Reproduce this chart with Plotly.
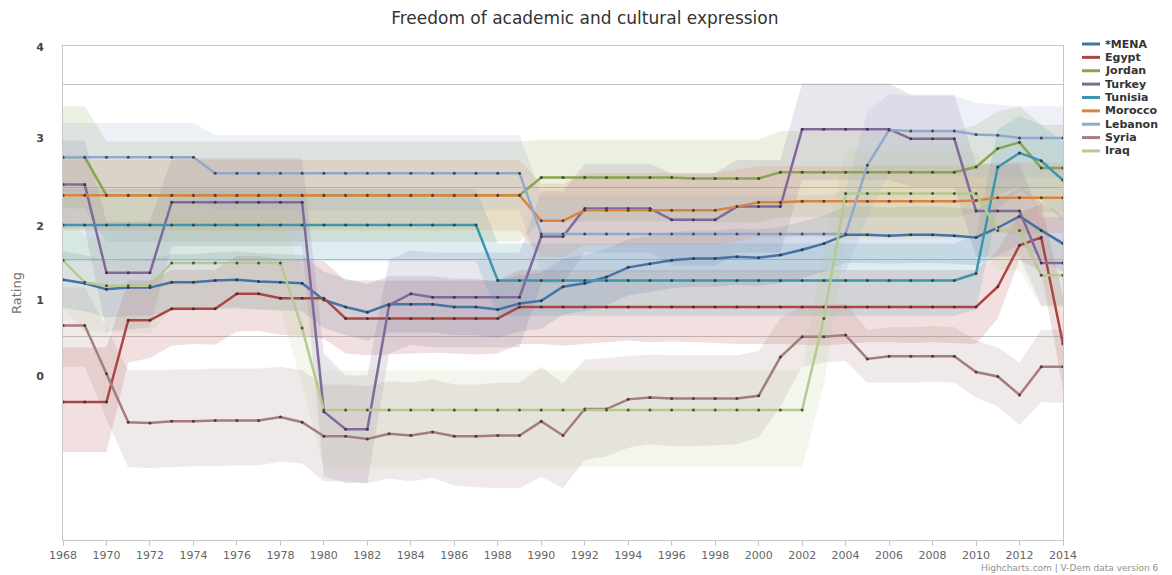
import plotly.graph_objects as go

# ---------------- data ----------------
years = list(range(1968, 2015))
series_names = ["*MENA", "Egypt", "Jordan", "Turkey", "Tunisia", "Morocco", "Lebanon", "Syria", "Iraq"]
series_colors = ["#4572A7", "#AA4643", "#89A54E", "#80699B", "#3D96AE", "#DB843D", "#92A8CD", "#A47D7C", "#B5CA92"]

mena = [1.39, 1.35, 1.28, 1.30, 1.30, 1.36, 1.36, 1.38, 1.39, 1.37, 1.36, 1.35,
        1.16, 1.08, 1.02, 1.11, 1.11, 1.11, 1.08, 1.08, 1.05, 1.12,
        1.15, 1.31, 1.35, 1.42, 1.53, 1.57, 1.61, 1.63, 1.63, 1.65,
        1.64, 1.67, 1.73, 1.80, 1.90, 1.90, 1.89, 1.90, 1.90, 1.89,
        1.87, 1.98, 2.11, 1.95, 1.80]
mena_lo = [1.07, 1.03, 0.96, 0.98, 0.98, 1.04, 1.04, 1.06, 1.07, 1.05, 1.04, 1.03,
           0.84, 0.76, 0.70, 0.79, 0.79, 0.79, 0.76, 0.76, 0.73, 0.80,
           0.83, 0.99, 1.03, 1.10, 1.21, 1.25, 1.29, 1.31, 1.31, 1.33,
           1.32, 1.35, 1.41, 1.48, 1.58, 1.58, 1.57, 1.58, 1.58, 1.57,
           1.55, 1.66, 1.79, 1.63, 1.48]
mena_hi = [1.71, 1.67, 1.60, 1.62, 1.62, 1.68, 1.68, 1.70, 1.71, 1.69, 1.68, 1.67,
           1.48, 1.40, 1.34, 1.43, 1.43, 1.43, 1.40, 1.40, 1.37, 1.44,
           1.47, 1.63, 1.67, 1.74, 1.85, 1.89, 1.93, 1.95, 1.95, 1.97,
           1.96, 1.99, 2.05, 2.12, 2.22, 2.22, 2.21, 2.22, 2.22, 2.21,
           2.19, 2.30, 2.43, 2.27, 2.12]

egypt = [0.00, 0.00, 0.00, 0.93, 0.93, 1.06, 1.06, 1.06, 1.23, 1.23, 1.18, 1.18,
         1.18, 0.95, 0.95, 0.95, 0.95, 0.95, 0.95, 0.95, 0.95, 1.08,
         1.08, 1.08, 1.08, 1.08, 1.08, 1.08, 1.08, 1.08, 1.08, 1.08,
         1.08, 1.08, 1.08, 1.08, 1.08, 1.08, 1.08, 1.08, 1.08, 1.08,
         1.08, 1.31, 1.78, 1.87, 0.66]
egypt_lo = [-0.57, -0.57, -0.57, 0.45, 0.50, 0.64, 0.66, 0.65, 0.80, 0.81, 0.76, 0.75,
            0.72, 0.55, 0.53, 0.54, 0.55, 0.56, 0.55, 0.54, 0.55, 0.66,
            0.66, 0.64, 0.66, 0.68, 0.70, 0.68, 0.69, 0.68, 0.67, 0.66,
            0.66, 0.66, 0.65, 0.64, 0.66, 0.68, 0.68, 0.67, 0.68, 0.67,
            0.66, 0.95, 1.62, 1.48, 0.15]
egypt_hi = [0.62, 0.62, 0.62, 1.38, 1.38, 1.50, 1.50, 1.50, 1.66, 1.66, 1.62, 1.62,
            1.60, 1.38, 1.38, 1.38, 1.38, 1.38, 1.38, 1.38, 1.38, 1.50,
            1.50, 1.50, 1.50, 1.50, 1.50, 1.50, 1.50, 1.50, 1.50, 1.50,
            1.50, 1.50, 1.50, 1.50, 1.50, 1.50, 1.50, 1.50, 1.50, 1.50,
            1.50, 1.72, 2.15, 2.25, 1.20]

jordan = [2.78, 2.78, 2.35, 2.35, 2.35, 2.35, 2.35, 2.35, 2.35, 2.35, 2.35, 2.35,
          2.35, 2.35, 2.35, 2.35, 2.35, 2.35, 2.35, 2.35, 2.35, 2.35,
          2.55, 2.55, 2.55, 2.55, 2.55, 2.55, 2.55, 2.54, 2.54, 2.54,
          2.54, 2.61, 2.61, 2.61, 2.61, 2.61, 2.61, 2.61, 2.61, 2.61,
          2.67, 2.88, 2.95, 2.66, 2.66]
jordan_lo = [2.20, 2.20, 1.82, 1.82, 1.82, 1.82, 1.82, 1.82, 1.82, 1.82, 1.82, 1.82,
             1.82, 1.82, 1.82, 1.82, 1.82, 1.82, 1.82, 1.82, 1.82, 1.82,
             2.05, 2.05, 2.05, 2.05, 2.05, 2.05, 2.05, 2.04, 2.04, 2.04,
             2.04, 2.10, 2.10, 2.10, 2.10, 2.10, 2.10, 2.10, 2.10, 2.10,
             2.15, 2.35, 2.45, 2.15, 2.15]
jordan_hi = [3.36, 3.36, 2.96, 2.96, 2.96, 2.96, 2.96, 2.96, 2.96, 2.96, 2.96, 2.96,
             2.96, 2.96, 2.96, 2.96, 2.96, 2.96, 2.96, 2.96, 2.96, 2.96,
             2.98, 2.98, 2.98, 2.98, 2.98, 2.98, 2.98, 2.98, 2.98, 2.98,
             2.98, 3.08, 3.08, 3.08, 3.08, 3.08, 3.08, 3.08, 3.08, 3.08,
             3.15, 3.30, 3.36, 3.15, 3.15]

turkey = [2.47, 2.47, 1.47, 1.47, 1.47, 2.27, 2.27, 2.27, 2.27, 2.27, 2.27, 2.27,
          -0.11, -0.31, -0.31, 1.10, 1.23, 1.19, 1.19, 1.19, 1.19, 1.19,
          1.88, 1.88, 2.20, 2.20, 2.20, 2.20, 2.07, 2.07, 2.07, 2.22,
          2.22, 2.22, 3.10, 3.10, 3.10, 3.10, 3.10, 2.99, 2.99, 2.99,
          2.17, 2.17, 2.17, 1.58, 1.58]
turkey_lo = [1.97, 1.97, 0.80, 0.82, 0.85, 1.77, 1.77, 1.77, 1.77, 1.77, 1.77, 1.77,
             -0.85, -0.92, -0.92, 0.55, 0.65, 0.62, 0.62, 0.62, 0.62, 0.62,
             1.35, 1.35, 1.70, 1.70, 1.70, 1.70, 1.55, 1.55, 1.55, 1.70,
             1.70, 1.70, 2.52, 2.52, 2.52, 2.52, 2.52, 2.45, 2.45, 2.45,
             1.65, 1.65, 1.65, 1.10, 1.10]
turkey_hi = [2.97, 2.97, 2.05, 2.05, 2.05, 2.77, 2.77, 2.77, 2.77, 2.77, 2.77, 2.77,
             0.55, 0.30, 0.30, 1.62, 1.72, 1.70, 1.70, 1.70, 1.70, 1.70,
             2.40, 2.40, 2.70, 2.70, 2.70, 2.70, 2.60, 2.60, 2.60, 2.75,
             2.75, 2.75, 3.62, 3.62, 3.62, 3.62, 3.62, 3.49, 3.49, 3.49,
             2.70, 2.70, 2.70, 2.10, 2.10]

tunisia = [2.01, 2.01, 2.01, 2.01, 2.01, 2.01, 2.01, 2.01, 2.01, 2.01, 2.01, 2.01,
           2.01, 2.01, 2.01, 2.01, 2.01, 2.01, 2.01, 2.01, 1.38, 1.38,
           1.38, 1.38, 1.38, 1.38, 1.38, 1.38, 1.38, 1.38, 1.38, 1.38,
           1.38, 1.38, 1.38, 1.38, 1.38, 1.38, 1.38, 1.38, 1.38, 1.38,
           1.46, 2.67, 2.83, 2.74, 2.52]
tunisia_lo = [1.60, 1.60, 1.60, 1.60, 1.60, 1.60, 1.60, 1.60, 1.60, 1.60, 1.60, 1.60,
              1.60, 1.60, 1.60, 1.60, 1.60, 1.60, 1.60, 1.60, 0.98, 0.98,
              0.98, 0.98, 0.98, 0.98, 0.98, 0.98, 0.98, 0.98, 0.98, 0.98,
              0.98, 0.98, 0.98, 0.98, 0.98, 0.98, 0.98, 0.98, 0.98, 0.98,
              1.05, 2.20, 2.40, 2.30, 2.05]
tunisia_hi = [2.42, 2.42, 2.42, 2.42, 2.42, 2.42, 2.42, 2.42, 2.42, 2.42, 2.42, 2.42,
              2.42, 2.42, 2.42, 2.42, 2.42, 2.42, 2.42, 2.42, 1.80, 1.80,
              1.80, 1.80, 1.80, 1.80, 1.80, 1.80, 1.80, 1.80, 1.80, 1.80,
              1.80, 1.80, 1.80, 1.80, 1.80, 1.80, 1.80, 1.80, 1.80, 1.80,
              1.90, 3.10, 3.25, 3.15, 2.95]

morocco = [2.35, 2.35, 2.35, 2.35, 2.35, 2.35, 2.35, 2.35, 2.35, 2.35, 2.35, 2.35,
           2.35, 2.35, 2.35, 2.35, 2.35, 2.35, 2.35, 2.35, 2.35, 2.35,
           2.06, 2.06, 2.18, 2.18, 2.18, 2.18, 2.18, 2.18, 2.18, 2.22,
           2.27, 2.27, 2.28, 2.28, 2.28, 2.28, 2.28, 2.28, 2.28, 2.28,
           2.29, 2.32, 2.32, 2.32, 2.32]
morocco_lo = [1.95, 1.95, 1.95, 1.95, 1.95, 1.95, 1.95, 1.95, 1.95, 1.95, 1.95, 1.95,
              1.95, 1.95, 1.95, 1.95, 1.95, 1.95, 1.95, 1.95, 1.95, 1.95,
              1.65, 1.65, 1.78, 1.78, 1.78, 1.78, 1.78, 1.78, 1.78, 1.82,
              1.87, 1.87, 1.88, 1.88, 1.88, 1.88, 1.88, 1.88, 1.88, 1.88,
              1.90, 1.92, 1.92, 1.92, 1.92]
morocco_hi = [2.75, 2.75, 2.75, 2.75, 2.75, 2.75, 2.75, 2.75, 2.75, 2.75, 2.75, 2.75,
              2.75, 2.75, 2.75, 2.75, 2.75, 2.75, 2.75, 2.75, 2.75, 2.75,
              2.48, 2.48, 2.60, 2.60, 2.60, 2.60, 2.60, 2.60, 2.60, 2.64,
              2.68, 2.68, 2.68, 2.68, 2.68, 2.68, 2.68, 2.68, 2.68, 2.68,
              2.70, 2.72, 2.72, 2.72, 2.72]

lebanon = [2.78, 2.78, 2.78, 2.78, 2.78, 2.78, 2.78, 2.60, 2.60, 2.60, 2.60, 2.60,
           2.60, 2.60, 2.60, 2.60, 2.60, 2.60, 2.60, 2.60, 2.60, 2.60,
           1.91, 1.91, 1.91, 1.91, 1.91, 1.91, 1.91, 1.91, 1.91, 1.91,
           1.91, 1.91, 1.91, 1.91, 1.91, 2.69, 3.09, 3.08, 3.08, 3.08,
           3.04, 3.03, 3.00, 3.00, 3.00]
lebanon_lo = [2.38, 2.38, 2.38, 2.38, 2.38, 2.38, 2.38, 2.18, 2.18, 2.18, 2.18, 2.18,
              2.18, 2.18, 2.18, 2.18, 2.18, 2.18, 2.18, 2.18, 2.18, 2.18,
              1.48, 1.48, 1.48, 1.48, 1.48, 1.48, 1.48, 1.48, 1.48, 1.48,
              1.48, 1.48, 1.48, 1.48, 1.48, 2.10, 2.60, 2.58, 2.58, 2.58,
              2.55, 2.55, 2.55, 2.55, 2.55]
lebanon_hi = [3.17, 3.17, 3.17, 3.17, 3.17, 3.17, 3.17, 3.03, 3.03, 3.03, 3.03, 3.03,
              3.03, 3.03, 3.03, 3.03, 3.03, 3.03, 3.03, 3.03, 3.03, 3.03,
              2.35, 2.35, 2.35, 2.35, 2.35, 2.35, 2.35, 2.35, 2.35, 2.35,
              2.35, 2.35, 2.35, 2.35, 2.40, 3.30, 3.50, 3.48, 3.48, 3.48,
              3.40, 3.38, 3.36, 3.36, 3.36]

syria = [0.87, 0.87, 0.32, -0.23, -0.24, -0.22, -0.22, -0.21, -0.21, -0.21, -0.17, -0.23,
         -0.39, -0.39, -0.42, -0.36, -0.38, -0.34, -0.39, -0.39, -0.38, -0.38,
         -0.22, -0.38, -0.08, -0.08, 0.03, 0.05, 0.04, 0.04, 0.04, 0.04,
         0.07, 0.51, 0.74, 0.74, 0.76, 0.49, 0.52, 0.52, 0.52, 0.52,
         0.34, 0.29, 0.08, 0.40, 0.40]
syria_lo = [0.40, 0.40, -0.20, -0.74, -0.75, -0.74, -0.73, -0.73, -0.72, -0.72, -0.68, -0.70,
            -0.90, -0.90, -0.92, -0.87, -0.90, -0.86, -0.95, -0.97, -0.98, -0.98,
            -0.85, -0.98, -0.66, -0.62, -0.52, -0.48, -0.50, -0.50, -0.49, -0.48,
            -0.40, -0.05, 0.40, 0.45, 0.47, 0.22, 0.22, 0.22, 0.23, 0.22,
            0.05, -0.05, -0.26, 0.00, -0.01]
syria_hi = [1.30, 1.30, 0.85, 0.36, 0.36, 0.37, 0.37, 0.38, 0.38, 0.38, 0.40, 0.36,
            0.20, 0.20, 0.18, 0.24, 0.22, 0.26, 0.20, 0.20, 0.22, 0.22,
            0.40, 0.21, 0.48, 0.50, 0.52, 0.54, 0.53, 0.53, 0.53, 0.53,
            0.58, 0.95, 1.10, 1.10, 1.12, 0.82, 0.85, 0.85, 0.86, 0.85,
            0.70, 0.62, 0.45, 0.82, 0.82]

iraq = [1.61, 1.36, 1.32, 1.32, 1.32, 1.58, 1.58, 1.58, 1.58, 1.58, 1.58, 0.84,
        -0.09, -0.09, -0.09, -0.09, -0.09, -0.09, -0.09, -0.09, -0.09, -0.09,
        -0.09, -0.09, -0.09, -0.09, -0.09, -0.09, -0.09, -0.09, -0.09, -0.09,
        -0.09, -0.09, -0.09, 0.95, 2.37, 2.37, 2.37, 2.37, 2.37, 2.37,
        2.37, 1.95, 1.95, 1.44, 1.44]
iraq_lo = [1.05, 0.80, 0.78, 0.78, 0.78, 1.05, 1.05, 1.05, 1.05, 1.05, 1.05, 0.20,
           -0.74, -0.74, -0.74, -0.74, -0.74, -0.74, -0.74, -0.74, -0.74, -0.74,
           -0.74, -0.74, -0.74, -0.74, -0.74, -0.74, -0.74, -0.74, -0.74, -0.74,
           -0.74, -0.74, -0.74, 0.20, 1.85, 1.85, 1.85, 1.85, 1.85, 1.85,
           1.85, 1.50, 1.50, 1.08, 1.08]
iraq_hi = [2.15, 1.88, 1.85, 1.85, 1.85, 2.10, 2.10, 2.10, 2.10, 2.10, 2.10, 1.50,
           0.36, 0.36, 0.36, 0.36, 0.36, 0.36, 0.36, 0.36, 0.36, 0.36,
           0.36, 0.36, 0.36, 0.36, 0.36, 0.36, 0.36, 0.36, 0.36, 0.36,
           0.36, 0.36, 0.36, 1.75, 2.85, 2.85, 2.85, 2.85, 2.85, 2.85,
           2.85, 2.45, 2.45, 1.85, 1.85]

series_values = [mena, egypt, jordan, turkey, tunisia, morocco, lebanon, syria, iraq]
series_low = [mena_lo, egypt_lo, jordan_lo, turkey_lo, tunisia_lo, morocco_lo, lebanon_lo, syria_lo, iraq_lo]
series_high = [mena_hi, egypt_hi, jordan_hi, turkey_hi, tunisia_hi, morocco_hi, lebanon_hi, syria_hi, iraq_hi]

# axis labelling (rating scale labels and threshold grid lines, in chart units)
ytick_vals = [4.034, 3.0, 2.0, 1.159, 0.295]
ytick_text = ["4", "3", "2", "1", "0"]
ygrid_vals = [0.739, 1.614, 2.432, 3.602]
y_range = [-1.568, 4.045]
x_ticks = list(range(1968, 2015, 2))

# ---------------- figure ----------------
FONT = "DejaVu Sans"


def rgba(hex_color, a):
    h = hex_color.lstrip("#")
    r, g, b = int(h[0:2], 16), int(h[2:4], 16), int(h[4:6], 16)
    return f"rgba({r},{g},{b},{a})"


fig = go.Figure()

# confidence bands
for name, col, lo, hi in zip(series_names, series_colors, series_low, series_high):
    fig.add_trace(go.Scatter(
        x=years + years[::-1],
        y=hi + lo[::-1],
        fill="toself",
        fillcolor=rgba(col, 0.17),
        line=dict(width=0),
        mode="lines",
        hoverinfo="skip",
        showlegend=False,
        name=name + " range",
    ))

# estimate lines
for name, col, vals in zip(series_names, series_colors, series_values):
    fig.add_trace(go.Scatter(
        x=years, y=vals, mode="lines+markers", name=name,
        line=dict(color=col, width=2.5),
        marker=dict(size=3, color="rgba(40,40,40,0.75)"),
        showlegend=False,
    ))

# custom compact legend (Highcharts style)
W, H = 1172, 575
row_top_px = 44.0
row_step_px = 13.37
plot_left, plot_right, plot_top, plot_bottom = 63, 1063, 46, 540
pw = plot_right - plot_left
ph = plot_bottom - plot_top
for i, (name, col) in enumerate(zip(series_names, series_colors)):
    py = row_top_px + i * row_step_px
    yp = (plot_bottom - py) / ph
    fig.add_shape(type="line", xref="paper", yref="paper",
                  x0=(1082 - plot_left) / pw, x1=(1100 - plot_left) / pw,
                  y0=yp, y1=yp, line=dict(color=col, width=3))
    fig.add_annotation(xref="paper", yref="paper", x=(1103 - plot_left) / pw, y=yp,
                       xanchor="left", yanchor="middle", showarrow=False,
                       text=name, font=dict(family=FONT, size=11, color="#333333", weight="bold"))

fig.add_annotation(xref="paper", yref="paper", x=(1161 - plot_left) / pw,
                   y=(plot_bottom - 568) / ph, xanchor="right", yanchor="middle",
                   showarrow=False, text="Highcharts.com | V-Dem data version 6",
                   font=dict(family=FONT, size=9, color="#909090"))

fig.update_layout(
    width=W, height=H,
    margin=dict(l=plot_left, r=W - plot_right, t=plot_top, b=H - plot_bottom),
    paper_bgcolor="white", plot_bgcolor="white",
    title=dict(text="Freedom of academic and cultural expression",
               x=0.499, xanchor="center", y=1 - 18 / H, yanchor="middle",
               font=dict(family=FONT, size=17, color="#333333")),
    showlegend=False,
    xaxis=dict(range=[1968, 2014], tickmode="array", tickvals=x_ticks,
               showgrid=False, zeroline=False,
               showline=True, linecolor="#C0C8D0", linewidth=1, mirror=True,
               ticks="outside", ticklen=5, tickcolor="#C0C8D0",
               tickfont=dict(family=FONT, size=11, color="#666666")),
    yaxis=dict(range=y_range, tickmode="array", tickvals=ytick_vals, ticktext=ytick_text,
               showgrid=False, zeroline=False,
               showline=True, linecolor="#C8C8C8", linewidth=1, mirror=True,
               ticks="", ticklabelstandoff=16,
               tickfont=dict(family=FONT, size=11, color="#444444", weight="bold"),
               minor=dict(tickmode="array", tickvals=ygrid_vals, showgrid=True,
                          gridcolor="#C4C4C4", gridwidth=1, ticks=""),
               title=dict(text="Rating", standoff=11,
                          font=dict(family=FONT, size=13, color="#707070"))),
)

fig.write_html("out.html",
               config={"displayModeBar": False},
               post_script="document.body.style.margin='0px';document.body.style.overflow='hidden';")
